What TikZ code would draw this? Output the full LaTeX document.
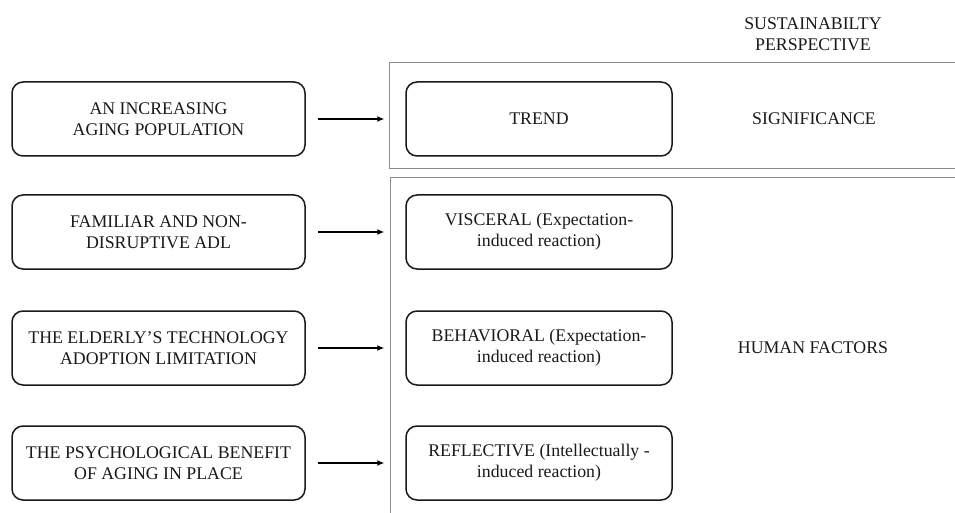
\documentclass[tikz,border=0pt]{standalone}
\usepackage{fontspec}
\setmainfont{Liberation Serif}
\usetikzlibrary{arrows.meta}
\begin{document}
\begin{tikzpicture}[x=1pt,y=-1pt,
  txt/.style={font=\fontsize{17.8}{21}\selectfont, text=black!90, align=center, inner sep=0pt},
  leftbox/.style={txt, draw=black!90, line width=1.5pt, rounded corners=11pt, minimum width=293pt, minimum height=74pt},
  rightbox/.style={txt, draw=black!90, line width=1.5pt, rounded corners=11pt, minimum width=266pt, minimum height=74pt},
  panel/.style={draw=black!45, line width=0.8pt},
  conn/.style={-{Latex[length=7pt,width=6pt]}, line width=1.2pt, shorten <=12pt, shorten >=21pt}
]
\useasboundingbox (0,0) rectangle (955,513);
% panels
\draw[panel] (956,62) -- (389,62) -- (389,168) -- (956,168);
\draw[panel] (956,177) -- (390,177) -- (390,514);
% left boxes
\node[leftbox] (l1) at (158.5,119) {AN INCREASING\\AGING POPULATION};
\node[leftbox] (l2) at (158.5,232) {FAMILIAR AND NON-\\DISRUPTIVE ADL};
\node[leftbox] (l3) at (158.5,348) {THE ELDERLY'S TECHNOLOGY\\ADOPTION LIMITATION};
\node[leftbox] (l4) at (158.5,463) {THE PSYCHOLOGICAL BENEFIT\\OF AGING IN PLACE};
% right boxes
\node[rightbox] (r1) at (539,119) {TREND};
\node[rightbox] (r2) at (539,232) {VISCERAL (Expectation-\\induced reaction)};
\node[rightbox] (r3) at (539,348) {BEHAVIORAL (Expectation-\\induced reaction)};
\node[rightbox] (r4) at (539,463) {REFLECTIVE (Intellectually -\\induced reaction)};
% labels
\node[txt] (sp) at (813,34) {SUSTAINABILTY\\PERSPECTIVE};
\node[txt] (sig) at (814,119) {SIGNIFICANCE};
\node[txt] (hf) at (813,348) {HUMAN FACTORS};
% arrows
\draw[conn] (l1) -- (r1);
\draw[conn] (l2) -- (r2);
\draw[conn] (l3) -- (r3);
\draw[conn] (l4) -- (r4);
\end{tikzpicture}
\end{document}
